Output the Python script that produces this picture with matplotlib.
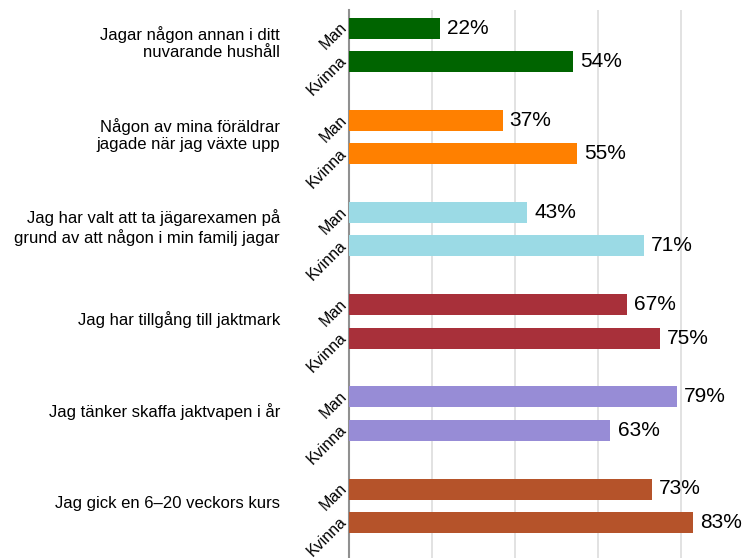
import matplotlib.pyplot as plt
import numpy as np

plt.rcParams['font.family'] = ['Liberation Sans', 'DejaVu Sans']

# survey statements (one group of bars each)
questions = [
    "Jagar någon annan i ditt\nnuvarande hushåll",
    "Någon av mina föräldrar\njagade när jag växte upp",
    "Jag har valt att ta jägarexamen på\ngrund av att någon i min familj jagar",
    "Jag har tillgång till jaktmark",
    "Jag tänker skaffa jaktvapen i år",
    "Jag gick en 6–20 veckors kurs",
]
genders = ["Man", "Kvinna"]
man_pct = [22, 37, 43, 67, 79, 73]
kvinna_pct = [54, 55, 71, 75, 63, 83]
colors = ["#006400", "#FF8000", "#9BDAE5", "#A8303A", "#978CD6", "#B5532A"]

fig = plt.figure(figsize=(7.45, 5.58), dpi=100)
# axes spans from x=349px to the right edge, y from ~10px down to the bottom
ax = fig.add_axes([349 / 745, 0, 1 - 349 / 745, 1 - 10 / 558])

group_step = 92.2
offset = 33.5 / group_step
bar_h = 21 / group_step
y_man = np.arange(len(questions))
y_kv = y_man + offset

ax.barh(y_man, man_pct, height=bar_h, color=colors, zorder=3)
ax.barh(y_kv, kvinna_pct, height=bar_h, color=colors, zorder=3)

for y, v in zip(y_man, man_pct):
    ax.text(v + 1.7, y, f"{v}%", va='center', ha='left', fontsize=15, zorder=4)
for y, v in zip(y_kv, kvinna_pct):
    ax.text(v + 1.7, y, f"{v}%", va='center', ha='left', fontsize=15, zorder=4)

top = -(28 - 10) / group_step
ax.set_ylim((548) / group_step + top, top)
ax.set_xlim(0, (745 - 349) / 4.15)

ax.set_xticks([20, 40, 60, 80])
ax.xaxis.grid(True, color='#DDDDDD', linewidth=1.2, zorder=0)
ax.tick_params(axis='x', length=0, labelbottom=False)
ax.set_yticks([])
for s in ['top', 'right', 'bottom']:
    ax.spines[s].set_visible(False)
ax.spines['left'].set_color('#909090')
ax.spines['left'].set_linewidth(1.5)

# gender labels, rotated, next to each bar
for y in y_man:
    ax.text(-0.012, y - 0.03, "Man", transform=ax.get_yaxis_transform(), rotation=45,
            rotation_mode='anchor', ha='right', va='center', fontsize=11.5)
for y in y_kv:
    ax.text(-0.012, y - 0.03, "Kvinna", transform=ax.get_yaxis_transform(), rotation=45,
            rotation_mode='anchor', ha='right', va='center', fontsize=11.5)

# question labels, right aligned left of the gender labels
for y, q in zip(y_man + offset / 2 - 0.02, questions):
    ax.text(-69 / 396, y, q, transform=ax.get_yaxis_transform(), ha='right', va='center',
            fontsize=12, linespacing=1.2)

fig.savefig("out.png", dpi=100)
